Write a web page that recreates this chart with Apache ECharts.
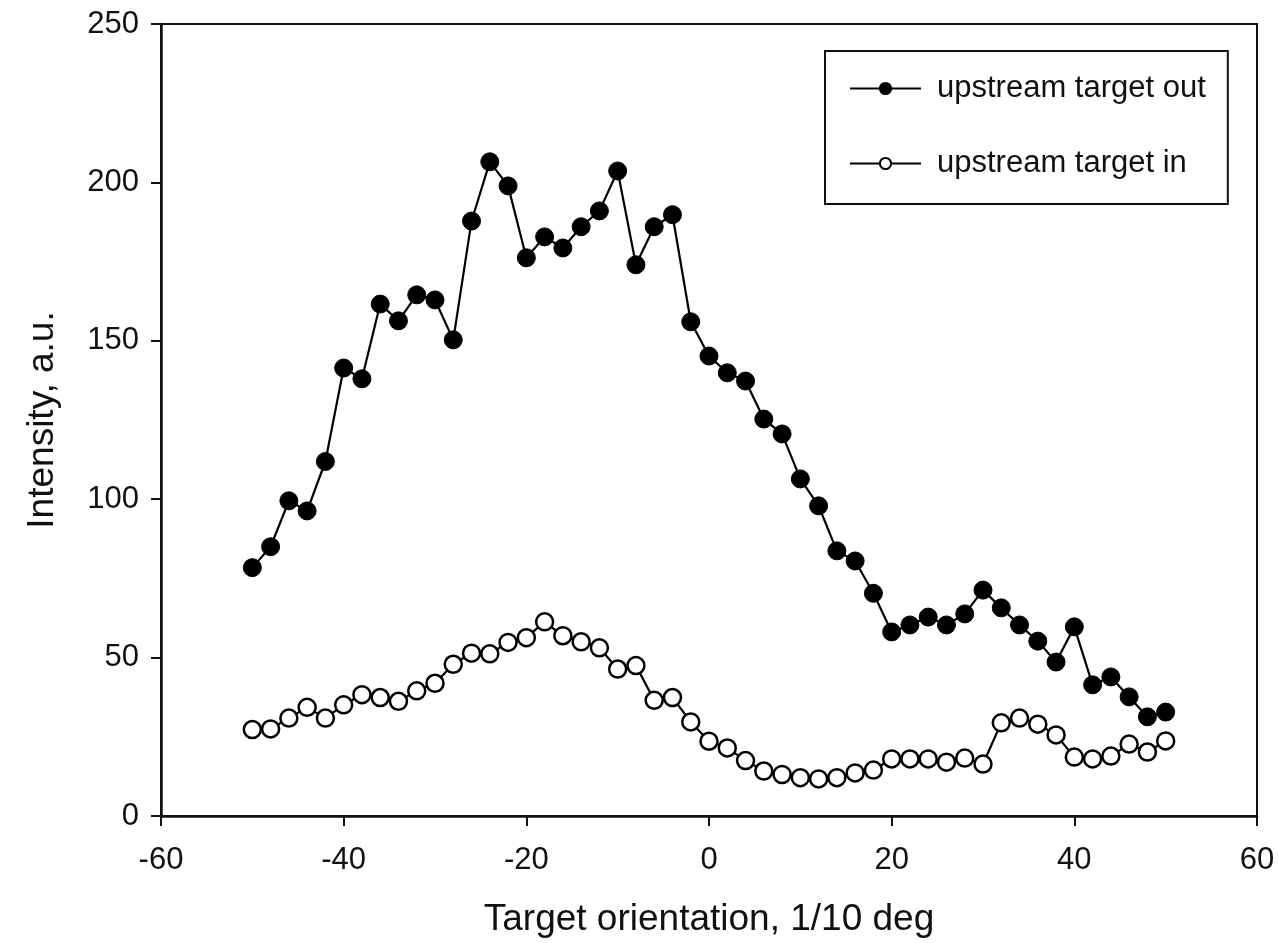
<!DOCTYPE html>
<html>
<head>
<meta charset="utf-8">
<script src="https://cdn.jsdelivr.net/npm/echarts@6/dist/echarts.min.js"></script>
<style>
html,body{margin:0;padding:0;background:#fff;}
#chart{width:1279px;height:943px;}
</style>
</head>
<body>
<div id="chart"></div>
<script>
const orientation = [-50,-48,-46,-44,-42,-40,-38,-36,-34,-32,-30,-28,-26,-24,-22,-20,-18,-16,-14,-12,-10,-8,-6,-4,-2,0,2,4,6,8,10,12,14,16,18,20,22,24,26,28,30,32,34,36,38,40,42,44,46,48,50];
const targetOut = [78.4,85,99.5,96.3,111.9,141.4,138,161.6,156.3,164.5,162.9,150.3,187.8,206.5,198.9,176.2,182.8,179.3,186,191,203.6,174,186,189.8,156,145.2,139.9,137.3,125.3,120.6,106.4,97.9,83.7,80.5,70.3,58.1,60.3,62.8,60.3,63.8,71.3,65.7,60.3,55.2,48.6,59.7,41.4,43.9,37.6,31.3,32.8];
const targetIn = [27.3,27.5,30.9,34.3,30.9,35.1,38.3,37.4,36.2,39.5,41.9,47.9,51.4,51.2,54.8,56.3,61.3,56.9,55,53.1,46.4,47.5,36.5,37.4,29.7,23.6,21.5,17.5,14.2,13.1,12.1,11.7,12.1,13.6,14.5,18,18,18,17,18.3,16.4,29.4,30.9,29,25.6,18.6,18,18.9,22.7,20.2,23.7];
const seriesNames = ['upstream target out','upstream target in'];
const xTicks = {min:-60,max:60,interval:20};
const yTicks = {min:0,max:250,interval:50};

const font = 'Liberation Sans, Arial, sans-serif';
const chart = echarts.init(document.getElementById('chart'), null, {renderer:'canvas'});
const pairs = (xs, ys) => xs.map((x,i)=>[x, ys[i]]);
chart.setOption({
  animation:false,
  backgroundColor:'#fff',
  grid:{left:161,right:22,top:24,bottom:127,show:true,borderColor:'#111',borderWidth:2,backgroundColor:'transparent'},
  legend:{
    left:825, top:51,
    orient:'vertical',
    data:seriesNames,
    itemWidth:71, itemHeight:14, itemGap:44,
    padding:[22,22,25,24],
    borderColor:'#111', borderWidth:2,
    backgroundColor:'#fff',
    lineStyle:{width:2},
    textStyle:{fontFamily:font,fontSize:31,color:'#111',padding:[0,0,0,11]}
  },
  xAxis:{
    type:'value', min:xTicks.min, max:xTicks.max, interval:xTicks.interval,
    name:'Target orientation, 1/10 deg', nameLocation:'middle', nameGap:85,
    nameTextStyle:{fontFamily:font,fontSize:37,color:'#111'},
    axisLine:{show:true,onZero:false,lineStyle:{color:'#111',width:2.5}},
    axisTick:{show:true,inside:false,length:10,lineStyle:{color:'#111',width:2}},
    axisLabel:{fontFamily:font,fontSize:31,color:'#111',margin:29},
    splitLine:{show:false}
  },
  yAxis:{
    type:'value', min:yTicks.min, max:yTicks.max, interval:yTicks.interval,
    name:'Intensity, a.u.', nameLocation:'middle', nameGap:100, nameRotate:90,
    nameTextStyle:{fontFamily:font,fontSize:37,color:'#111'},
    axisLine:{show:true,onZero:false,lineStyle:{color:'#111',width:2.5}},
    axisTick:{show:true,inside:false,length:10,lineStyle:{color:'#111',width:2}},
    axisLabel:{fontFamily:font,fontSize:31,color:'#111',margin:22},
    splitLine:{show:false}
  },
  series:[
    {
      name:seriesNames[0], type:'line', data:pairs(orientation,targetOut),
      symbol:'circle', symbolSize:18,
      lineStyle:{color:'#000',width:2.2},
      itemStyle:{color:'#000',borderColor:'#000',borderWidth:1}
    },
    {
      name:seriesNames[1], type:'line', data:pairs(orientation,targetIn),
      symbol:'circle', symbolSize:17,
      lineStyle:{color:'#000',width:2.2},
      itemStyle:{color:'#fff',borderColor:'#000',borderWidth:2.5}
    }
  ]
});
</script>
</body>
</html>
